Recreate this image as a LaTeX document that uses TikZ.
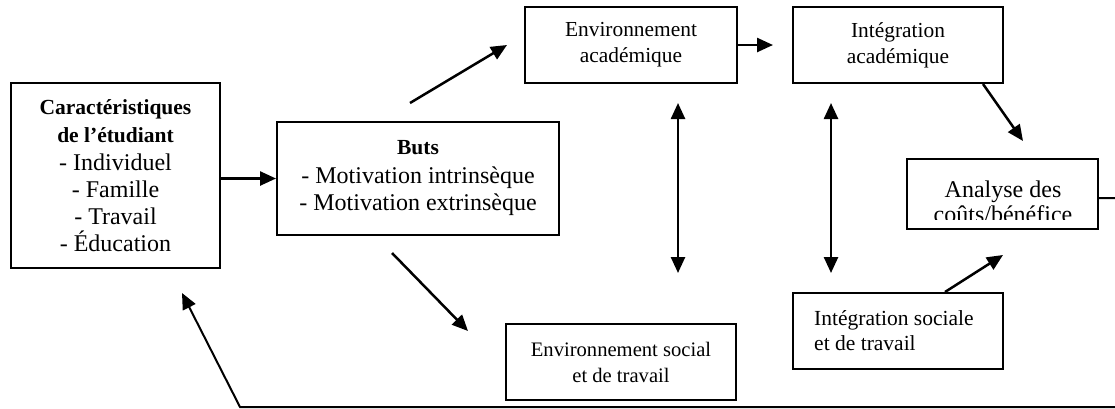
\documentclass[tikz,border=0pt]{standalone}
\usepackage{fontspec}
\setmainfont{Liberation Serif}
\usetikzlibrary{arrows.meta}
\newcommand{\bigtxt}{\fontsize{24}{27}\selectfont}
\newcommand{\midtxt}{\fontsize{21.4}{26}\selectfont}
\newcommand{\bhead}[1]{{\fontsize{21.5}{23}\selectfont\bfseries #1}}
\begin{document}
\begin{tikzpicture}[x=1pt,y=-1pt,
  box/.style={draw,line width=2pt,inner sep=0pt,align=center},
  lbl/.style={inner sep=0pt,align=center},
  arr/.style={line width=2.5pt,line join=miter,-{Triangle[length=16pt,width=14pt]}},
  darr/.style={line width=2.5pt,{Triangle[length=16pt,width=14pt]}-{Triangle[length=16pt,width=14pt]}}]
\useasboundingbox (0,0) rectangle (1115,408);

% boxes
\node[box,minimum width=209pt,minimum height=185pt,font=\bigtxt] (car) at (115.5,175.5)
  {\bhead{Caractéristiques}\\[1pt]\bhead{de l’étudiant}\\[1pt]- Individuel\\- Famille\\- Travail\\- Éducation};
\node[box,minimum width=282pt,minimum height=113pt,font=\bigtxt] (buts) at (418,178.5)
  {\bhead{Buts}\\[2pt]- Motivation intrinsèque\\- Motivation extrinsèque};
\node[box,minimum width=212pt,minimum height=76pt,font=\midtxt] (ea) at (631,45)
  {Environnement\\académique};
\node[box,minimum width=210pt,minimum height=76pt,font=\midtxt] (ia) at (898,45)
  {Intégration\\académique};
\node[box,minimum width=191pt,minimum height=70pt] (an) at (1002.5,194) {};
\begin{scope}
  \clip (907,159) rectangle (1098,219);
  \node[lbl,font=\fontsize{24}{25}\selectfont] (antxt) at (1003,202) {Analyse des\\coûts/bénéfice};
\end{scope}
\node[box,minimum width=230pt,minimum height=76pt,font=\fontsize{20.6}{26}\selectfont] (es) at (621,362)
  {Environnement social\\et de travail};
\node[box,minimum width=210pt,minimum height=76pt] (is) at (898,331) {};
\node[lbl,align=left,anchor=west,font=\fontsize{21.5}{25}\selectfont] (istxt) at (814,331)
  {Intégration sociale\\et de travail};

% free ends
\coordinate (upS) at (410,103);
\coordinate (upT) at (507,45);
\coordinate (dnS) at (392,253);
\coordinate (dnT) at (468,331);
\coordinate (eaT) at (773,45);
\coordinate (d1a) at (678,103);
\coordinate (d1b) at (678,273);
\coordinate (d2a) at (831,103);
\coordinate (d2b) at (831,273);
\coordinate (iaT) at (1023,141);
\coordinate (isT) at (1003,255);
\coordinate (fb1) at (1118,198);
\coordinate (fb2) at (1118,407);
\coordinate (fb3) at (240,407);
\coordinate (fbT) at (182,293);

% connectors
\draw[arr] (car.east |- buts.west) -- (buts.west);
\draw[arr] (upS) -- (upT);
\draw[arr] (dnS) -- (dnT);
\draw[arr] (ea.east) -- (eaT);
\draw[darr] (d1a) -- (d1b);
\draw[darr] (d2a) -- (d2b);
\draw[arr] ([xshift=85pt]ia.south) -- (iaT);
\draw[arr] ([xshift=47pt]is.north) -- (isT);
\draw[arr,line width=2pt] (an.east |- fb1) -- (fb1) -- (fb2) -- (fb3) -- (fbT);
\end{tikzpicture}
\end{document}
